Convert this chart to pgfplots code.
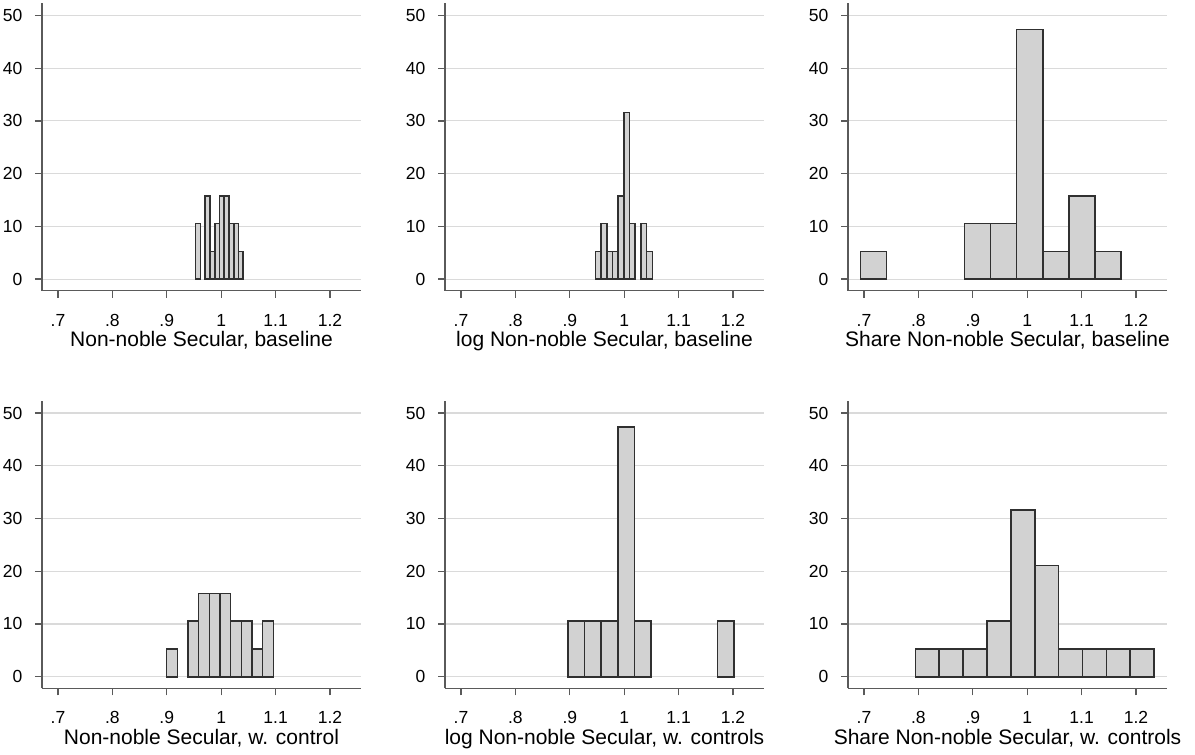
\documentclass[border=0pt]{standalone}
\usepackage{pgfplots}
\pgfplotsset{compat=1.18}
\usepackage{fontspec}
\setmainfont{Liberation Sans}
\definecolor{barfill}{HTML}{D2D2D2}
\definecolor{bardraw}{HTML}{303030}
\definecolor{axisgray}{HTML}{5A5A5A}
\definecolor{gridgray}{HTML}{DADADA}
\pgfplotsset{
  hist/.style={
    scale only axis,
    width=319bp, height=287.4bp,
    anchor=south west,
    xmin=0.6706, xmax=1.257,
    ymin=-2.2, ymax=52.3,
    axis x line*=bottom, axis y line*=left,
    axis line style={-, draw=axisgray, line width=1.3bp},
    tick style={draw=axisgray, line width=1.3bp},
    tick align=outside,
    major tick length=7bp,
    xtick={0.7,0.8,0.9,1.0,1.1,1.2},
    xticklabels={.7,.8,.9,1,1.1,1.2},
    ytick={0,10,20,30,40,50},
    yticklabels={0,10,20,30,40,50},
    /pgf/number format/assume math mode=true,
    ymajorgrids,
    grid style={draw=gridgray, line width=1.1bp},
    x tick label style={font=\fontsize{17.5bp}{17.5bp}\selectfont, anchor=base, inner sep=0pt, yshift=-28.6bp},
    y tick label style={font=\fontsize{17.5bp}{17.5bp}\selectfont, anchor=east, inner sep=0pt, xshift=-12.4bp},
    xlabel style={font=\fontsize{21bp}{21bp}\selectfont, at={(axis description cs:0.5,0)}, anchor=base, inner sep=0pt, yshift=-56bp},
  },
  bars/.style={ybar interval, fill=barfill, draw=bardraw, line width=1.6bp, mark=none},
}
\begin{document}
\begin{tikzpicture}
\path[use as bounding box] (0,0) rectangle (1195bp,-755bp);
% Panel 1
\begin{axis}[hist, at={(42bp,-290.7bp)}, xlabel={Non-noble Secular, baseline}]
\addplot[bars] coordinates {(0.9531,10.526) (0.9619,0)};
\addplot[bars] coordinates {(0.9706,15.789) (0.9794,5.263) (0.9881,10.526) (0.9969,15.789) (1.0056,15.789) (1.0144,10.526) (1.0231,10.526) (1.0319,5.263) (1.0406,0)};
\end{axis}
% Panel 2
\begin{axis}[hist, at={(445bp,-290.7bp)}, xlabel={log Non-noble Secular, baseline}]
\addplot[bars] coordinates {(0.9471,5.263) (0.9576,10.526) (0.9680,5.263) (0.9785,5.263) (0.9890,15.789) (0.9994,31.579) (1.0099,10.526) (1.0204,0)};
\addplot[bars] coordinates {(1.0309,10.526) (1.0413,5.263) (1.0518,0)};
\end{axis}
% Panel 3
\begin{axis}[hist, at={(848bp,-290.7bp)}, xlabel={Share Non-noble Secular, baseline}]
\addplot[bars] coordinates {(0.6932,5.263) (0.7411,0)};
\addplot[bars] coordinates {(0.8848,10.526) (0.9327,10.526) (0.9806,47.368) (1.0285,5.263) (1.0764,15.789) (1.1243,5.263) (1.1722,0)};
\end{axis}
% Panel 4
\begin{axis}[hist, at={(42bp,-688.3bp)}, xlabel={Non-noble Secular, w. control}]
\addplot[bars] coordinates {(0.8998,5.263) (0.9194,0)};
\addplot[bars] coordinates {(0.9390,10.526) (0.9586,15.789) (0.9782,15.789) (0.9978,15.789) (1.0174,10.526) (1.0370,10.526) (1.0566,5.263) (1.0762,10.526) (1.0958,0)};
\end{axis}
% Panel 5
\begin{axis}[hist, at={(445bp,-688.3bp)}, xlabel={log Non-noble Secular, w. controls}]
\addplot[bars] coordinates {(0.8967,10.526) (0.9272,10.526) (0.9577,10.526) (0.9882,47.368) (1.0187,10.526) (1.0492,0)};
\addplot[bars] coordinates {(1.1713,10.526) (1.2018,0)};
\end{axis}
% Panel 6
\begin{axis}[hist, at={(848bp,-688.3bp)}, xlabel={Share Non-noble Secular, w. controls}]
\addplot[bars] coordinates {(0.7943,5.263) (0.8382,5.263) (0.8821,5.263) (0.9260,10.526) (0.9699,31.579) (1.0138,21.053) (1.0577,5.263) (1.1016,5.263) (1.1455,5.263) (1.1894,5.263) (1.2333,0)};
\end{axis}
\end{tikzpicture}
\end{document}
